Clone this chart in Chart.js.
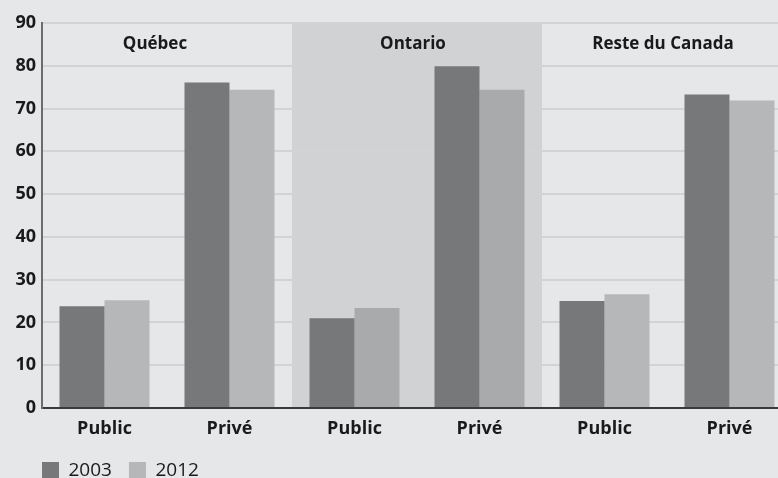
<!DOCTYPE html>
<html>
<head>
<meta charset="utf-8">
<script src="https://cdn.jsdelivr.net/npm/chart.js@4/dist/chart.umd.min.js"></script>
<style>
    html, body { margin: 0; padding: 0; background: #e6e7e9; overflow: hidden; height: 478px; }
    #wrap { width: 792px; height: 490px; position: relative; }
</style>
</head>
<body>
<div id="wrap"><canvas id="barChart"></canvas></div>
<script>
// Data
const categories = ['Public', 'Privé', 'Public', 'Privé', 'Public', 'Privé'];
const regions = ['Québec', 'Ontario', 'Reste du Canada'];
const values2003 = [23.8, 76.1, 21.0, 79.9, 25.0, 73.3];
const values2012 = [25.2, 74.4, 23.4, 74.4, 26.6, 71.9];
const yTicks = [0, 10, 20, 30, 40, 50, 60, 70, 80, 90];

const FONT = "'Open Sans', sans-serif";
const BG = '#e6e7e9';
const BAND = '#d1d2d4';

// Ontario is region index 1 -> categories 2 and 3
const isOntario = (i) => Math.floor(i / 2) === 1;

// background, shaded Ontario band and region titles
const regionPlugin = {
    id: 'regions',
    beforeDraw(chart) {
        const { ctx, chartArea, scales } = chart;
        const x = scales.x;
        ctx.save();
        ctx.fillStyle = BG;
        ctx.fillRect(0, 0, chart.width, chart.height);

        const step = x.getPixelForValue(1) - x.getPixelForValue(0);
        const left = x.getPixelForValue(2) - step / 2;
        const right = x.getPixelForValue(3) + step / 2;
        ctx.fillStyle = BAND;
        ctx.fillRect(left, chartArea.top, right - left, chartArea.bottom - chartArea.top);

        ctx.fillStyle = '#1a1a1a';
        ctx.font = `bold 17px ${FONT}`;
        ctx.textAlign = 'center';
        ctx.textBaseline = 'middle';
        const yMid = (scales.y.getPixelForValue(90) + scales.y.getPixelForValue(80)) / 2;
        regions.forEach((r, i) => {
            const cx = (x.getPixelForValue(i * 2) + x.getPixelForValue(i * 2 + 1)) / 2 - (i === 0 ? 12 : 4);
            ctx.fillText(r, cx, yMid);
        });
        ctx.restore();

        // line the legend up with the y axis
        if (chart.legend) chart.legend.left = chartArea.left - chart.legend.options.labels.padding;
    }
};

new Chart(document.getElementById('barChart'), {
    type: 'bar',
    data: {
        labels: categories,
        datasets: [
            {
                label: '2003',
                data: values2003,
                backgroundColor: '#77787a',
                borderWidth: 0
            },
            {
                label: '2012',
                data: values2012,
                backgroundColor: (c) => (c.dataIndex !== undefined && isOntario(c.dataIndex)) ? '#a9aaac' : '#b6b7b9',
                borderWidth: 0
            }
        ]
    },
    options: {
        responsive: true,
        maintainAspectRatio: false,
        animation: false,
        layout: { padding: { top: 23, right: 0, bottom: 0, left: 0 } },
        categoryPercentage: 0.72,
        barPercentage: 1,
        scales: {
            x: {
                grid: { display: false, drawTicks: false },
                border: { display: true, color: '#3a3a3a', width: 2 },
                ticks: {
                    color: '#1a1a1a',
                    font: { family: FONT, size: 18, weight: 'bold' },
                    padding: 10,
                    maxRotation: 0,
                    autoSkip: false
                },
                afterFit(scale) { scale.height = 36; }
            },
            y: {
                min: 0,
                max: 90,
                afterBuildTicks(scale) { scale.ticks = yTicks.map(v => ({ value: v })); },
                grid: { color: '#d2d3d5', lineWidth: 2, drawTicks: false },
                border: { display: true, color: '#6b6c6e', width: 2 },
                ticks: {
                    color: '#1a1a1a',
                    font: { family: FONT, size: 18, weight: 'bold' },
                    padding: 6
                },
                afterFit(scale) { scale.width = 42; }
            }
        },
        plugins: {
            legend: {
                position: 'bottom',
                align: 'start',
                fullSize: false,
                labels: {
                    boxWidth: 17,
                    boxHeight: 17,
                    padding: 17,
                    color: '#1a1a1a',
                    font: { family: FONT, size: 19 }
                }
            },
            tooltip: { enabled: false }
        }
    },
    plugins: [regionPlugin]
});
</script>
</body>
</html>
